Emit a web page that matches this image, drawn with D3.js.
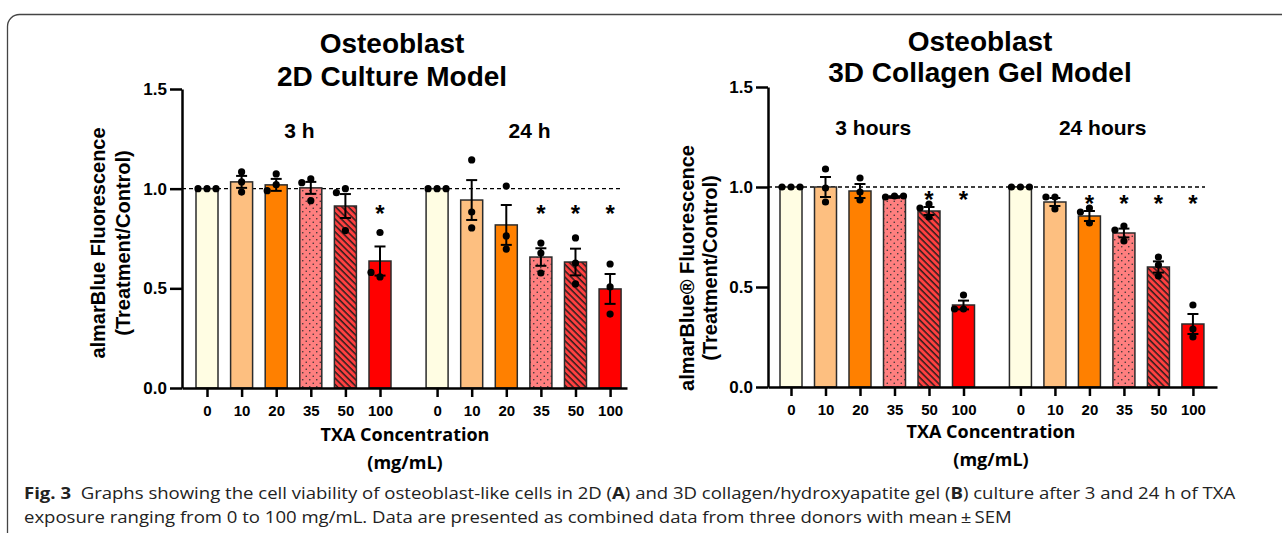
<!DOCTYPE html>
<html>
<head>
<meta charset="utf-8">
<script src="https://cdn.jsdelivr.net/npm/d3@7"></script>
<style>
body { margin: 0; background: #fff; }
svg { display: block; }
text { font-family: "Liberation Sans", Arial, sans-serif; fill: #000; }
.chart-text { font-weight: bold; }
.axis path, .axis line { stroke: #000; stroke-width: 2.5px; }
.axis text { font-family: "Liberation Sans", Arial, sans-serif; font-weight: bold; fill: #000; }
.sans { font-family: "Open Sans", sans-serif; }
</style>
</head>
<body>
<svg id="chart" width="1282" height="533"></svg>
<script>
"use strict";

// categories
var doses = ["0", "10", "20", "35", "50", "100"];
var groups2D = ["3 h", "24 h"];
var groups3D = ["3 hours", "24 hours"];
var yTicks = [0, 0.5, 1.0, 1.5];

// 2D culture model, 3 h and 24 h (mean, SEM, donor points, significance)
var mean2D_3h = [1.00, 1.034, 1.019, 1.004, 0.913, 0.637];
var sem2D_3h = [0, 0.030, 0.030, 0.030, 0.060, 0.073];
var pts2D_3h = [[1, 1, 1], [1.084, 1.034, 0.983], [1.074, 1.02, 0.99], [1.049, 1.03, 0.94], [1.0, 0.98, 0.79], [0.78, 0.557, 0.58]];
var star2D_3h = [0, 0, 0, 0, 0, 1];

var mean2D_24h = [1.00, 0.943, 0.818, 0.657, 0.632, 0.497];
var sem2D_24h = [0, 0.100, 0.100, 0.044, 0.067, 0.075];
var pts2D_24h = [[1, 1, 1], [1.144, 0.883, 0.803], [1.013, 0.763, 0.697], [0.727, 0.677, 0.577], [0.753, 0.627, 0.522], [0.622, 0.507, 0.371]];
var star2D_24h = [0, 0, 0, 1, 1, 1];

// 3D collagen gel model, 3 hours and 24 hours
var mean3D_3h = [1.00, 1.00, 0.98, 0.95, 0.88, 0.41];
var sem3D_3h = [0, 0.050, 0.035, 0.004, 0.020, 0.022];
var pts3D_3h = [[1, 1, 1], [1.09, 0.995, 0.925], [1.045, 0.975, 0.935], [0.955, 0.95, 0.955], [0.915, 0.895, 0.85], [0.46, 0.39, 0.39]];
var star3D_3h = [0, 0, 0, 0, 1, 1];

var mean3D_24h = [1.00, 0.925, 0.855, 0.77, 0.60, 0.315];
var sem3D_24h = [0, 0.020, 0.025, 0.022, 0.028, 0.050];
var pts3D_24h = [[1, 1, 1], [0.95, 0.95, 0.89], [0.895, 0.875, 0.82], [0.805, 0.785, 0.73], [0.65, 0.61, 0.555], [0.41, 0.29, 0.25]];
var star3D_24h = [0, 0, 1, 1, 1, 1];

var fills = ["#fffde3", "#fdbf80", "#ff8000", "url(#dots)", "url(#hatch)", "#ff0000"];

var panels = [
    {
        title: ["Osteoblast", "2D Culture Model"],
        groups: groups2D,
        means: [mean2D_3h, mean2D_24h],
        sems: [sem2D_3h, sem2D_24h],
        pts: [pts2D_3h, pts2D_24h],
        stars: [star2D_3h, star2D_24h],
        starLevel: [0.90, 0.90],
        yLabel: ["almarBlue Fluorescence", "(Treatment/Control)"],
        lay: { axisX: 182, axisEnd: 627, firstX: 207, step: 34.6, yTop: 89, yBottom: 388,
               dashEnd: 622, titleX: 392, titleY: [53, 86], groupDx: 6, groupY: 138,
               yLabX: [98, 123], yLabY: 243, txaX: 405, txaY: [441, 469] }
    },
    {
        title: ["Osteoblast", "3D Collagen Gel Model"],
        groups: groups3D,
        means: [mean3D_3h, mean3D_24h],
        sems: [sem3D_3h, sem3D_24h],
        pts: [pts3D_3h, pts3D_24h],
        stars: [star3D_3h, star3D_24h],
        starLevel: [0.96, 0.94],
        yLabel: ["almarBlue\u00AE Fluorescence", "(Treatment/Control)"],
        lay: { axisX: 768, axisEnd: 1217, firstX: 791, step: 34.5, yTop: 87, yBottom: 387,
               dashEnd: 1205, titleX: 980, titleY: [51, 82], groupDx: -4, groupY: 135,
               yLabX: [687, 710], yLabY: 268, txaX: 991, txaY: [438, 466] }
    }
];

var groupGap = 6.65; // slot offset of the second time group

var svg = d3.select("#chart");

// patterns for 35 and 50 mg/mL
var defs = svg.append("defs");
var dots = defs.append("pattern").attr("id", "dots")
    .attr("patternUnits", "userSpaceOnUse").attr("width", 7).attr("height", 7);
dots.append("rect").attr("width", 7).attr("height", 7).attr("fill", "#ff7f7f");
dots.append("circle").attr("cx", 1.75).attr("cy", 1.75).attr("r", 0.8).attr("fill", "#333");
dots.append("circle").attr("cx", 5.25).attr("cy", 5.25).attr("r", 0.8).attr("fill", "#333");
var hatch = defs.append("pattern").attr("id", "hatch")
    .attr("patternUnits", "userSpaceOnUse").attr("width", 4.5).attr("height", 4.5)
    .attr("patternTransform", "rotate(-45)");
hatch.append("rect").attr("width", 4.5).attr("height", 4.5).attr("fill", "#ff4040");
hatch.append("line").attr("x1", 1).attr("x2", 1).attr("y1", -1).attr("y2", 6)
    .attr("stroke", "#1a1a1a").attr("stroke-width", 1.4);

// outer frame
svg.append("rect").attr("x", 7.5).attr("y", 14.5).attr("width", 1400).attr("height", 700)
    .attr("rx", 12).attr("fill", "none").attr("stroke", "#444").attr("stroke-width", 1.3);

function spread(values, y) {
    var placed = [];
    return values.map(function (v) {
        var py = y(v);
        var cands = [0, -9, 9, -18, 18];
        for (var k = 0; k < cands.length; k++) {
            var ok = placed.every(function (p) {
                return Math.hypot(p.dx - cands[k], p.y - py) >= 8;
            });
            if (ok) {
                placed.push({ dx: cands[k], y: py });
                return placed[placed.length - 1];
            }
        }
        return { dx: 0, y: py };
    });
}

panels.forEach(function (p) {
    var L = p.lay;
    var y = d3.scaleLinear().domain([0, 1.5]).range([L.yBottom, L.yTop]);
    var x = d3.scaleLinear()
        .domain([(L.axisX - L.firstX) / L.step, (L.axisEnd - L.firstX) / L.step])
        .range([L.axisX, L.axisEnd]);
    var slot = function (g, i) { return i + g * groupGap; };
    var g = svg.append("g");

    // titles
    p.title.forEach(function (t, k) {
        g.append("text").attr("class", "chart-text")
            .attr("x", L.titleX).attr("y", L.titleY[k])
            .attr("text-anchor", "middle").style("font-size", "28px").text(t);
    });

    // y label
    p.yLabel.forEach(function (t, k) {
        g.append("text").attr("class", "chart-text")
            .attr("transform", "translate(" + L.yLabX[k] + "," + L.yLabY + ") rotate(-90)")
            .attr("text-anchor", "middle").attr("dominant-baseline", "central")
            .style("font-size", "20px").text(t);
    });

    // reference line at 1.0
    g.append("line")
        .attr("x1", L.axisX).attr("x2", L.dashEnd)
        .attr("y1", y(1)).attr("y2", y(1))
        .attr("stroke", "#000").attr("stroke-width", 1.3).attr("stroke-dasharray", "4,3");

    p.groups.forEach(function (gname, gi) {
        var cx = (x(slot(gi, 0)) + x(slot(gi, doses.length - 1))) / 2 + L.groupDx;
        g.append("text").attr("class", "chart-text")
            .attr("x", cx).attr("y", L.groupY)
            .attr("text-anchor", "middle").style("font-size", "21px").text(gname);

        var rows = doses.map(function (d, i) {
            return { i: i, mean: p.means[gi][i], sem: p.sems[gi][i], pts: p.pts[gi][i], star: p.stars[gi][i] };
        });
        var bw = 22;
        var bg = g.selectAll(null).data(rows).enter().append("g");
        bg.append("rect")
            .attr("x", function (d) { return x(slot(gi, d.i)) - bw / 2; })
            .attr("y", function (d) { return y(d.mean); })
            .attr("width", bw)
            .attr("height", function (d) { return y(0) - y(d.mean); })
            .attr("fill", function (d) { return fills[d.i]; })
            .attr("stroke", "#2b2b2b").attr("stroke-width", 1.5);

        var eb = bg.filter(function (d) { return d.sem > 0; });
        eb.append("line")
            .attr("x1", function (d) { return x(slot(gi, d.i)); })
            .attr("x2", function (d) { return x(slot(gi, d.i)); })
            .attr("y1", function (d) { return y(d.mean - d.sem); })
            .attr("y2", function (d) { return y(d.mean + d.sem); })
            .attr("stroke", "#000").attr("stroke-width", 2);
        [1, -1].forEach(function (sgn) {
            eb.append("line")
                .attr("x1", function (d) { return x(slot(gi, d.i)) - 5.5; })
                .attr("x2", function (d) { return x(slot(gi, d.i)) + 5.5; })
                .attr("y1", function (d) { return y(d.mean + sgn * d.sem); })
                .attr("y2", function (d) { return y(d.mean + sgn * d.sem); })
                .attr("stroke", "#000").attr("stroke-width", 2);
        });

        bg.each(function (d) {
            var cxb = x(slot(gi, d.i));
            d3.select(this).selectAll("circle").data(spread(d.pts, y)).enter().append("circle")
                .attr("cx", function (q) { return cxb + q.dx; })
                .attr("cy", function (q) { return q.y; })
                .attr("r", 3.6).attr("fill", "#000");
        });

        bg.filter(function (d) { return d.star; }).append("text").attr("class", "chart-text")
            .attr("x", function (d) { return x(slot(gi, d.i)); })
            .attr("y", y(p.starLevel[gi]) + 13)
            .attr("text-anchor", "middle").style("font-size", "24px").text("*");
    });

    // axes
    var tickSlots = [];
    p.groups.forEach(function (gname, gi) {
        doses.forEach(function (d, i) { tickSlots.push(slot(gi, i)); });
    });
    var xAxis = d3.axisBottom(x).tickValues(tickSlots).tickSize(9).tickSizeOuter(0).tickPadding(8)
        .tickFormat(function (s, k) { return doses[k % doses.length]; });
    g.append("g").attr("class", "axis")
        .attr("transform", "translate(0," + y(0) + ")")
        .call(xAxis)
        .selectAll("text").style("font-size", "15px");

    var yAxis = d3.axisLeft(y).tickValues(yTicks).tickSize(12).tickSizeOuter(0).tickPadding(3)
        .tickFormat(d3.format(".1f"));
    g.append("g").attr("class", "axis")
        .attr("transform", "translate(" + L.axisX + ",0)")
        .call(yAxis)
        .selectAll("text").style("font-size", "17px");

    // x label
    ["TXA Concentration", "(mg/mL)"].forEach(function (t, k) {
        g.append("text").attr("class", "sans")
            .attr("x", L.txaX).attr("y", L.txaY[k]).attr("text-anchor", "middle")
            .style("font-size", "18px").style("font-weight", "bold").text(t);
    });
});

// caption, squeezed horizontally so the first line fills the frame width
var caption = [
    [["Fig. 3", true], ["  Graphs showing the cell viability of osteoblast-like cells in 2D (", false], ["A", true],
     [") and 3D collagen/hydroxyapatite gel (", false], ["B", true], [") culture after 3 and 24 h of TXA", false]],
    [["exposure ranging from 0 to 100 mg/mL. Data are presented as combined data from three donors with mean\u2009\u00B1\u2009SEM", false]]
];
var capWidth = 1212;
var capLines = caption.map(function (line) {
    var t = svg.append("text").attr("class", "sans")
        .attr("x", 0).attr("y", 0)
        .style("font-size", "16px").style("white-space", "pre").style("fill", "#222");
    line.forEach(function (seg) {
        t.append("tspan").style("font-weight", seg[1] ? "bold" : "normal").text(seg[0]);
    });
    return t;
});
var sx = capWidth / capLines[0].node().getComputedTextLength();
capLines.forEach(function (t, k) {
    t.attr("transform", "translate(24," + (499 + k * 24) + ") scale(" + sx + ",1)");
});
</script>
</body>
</html>
